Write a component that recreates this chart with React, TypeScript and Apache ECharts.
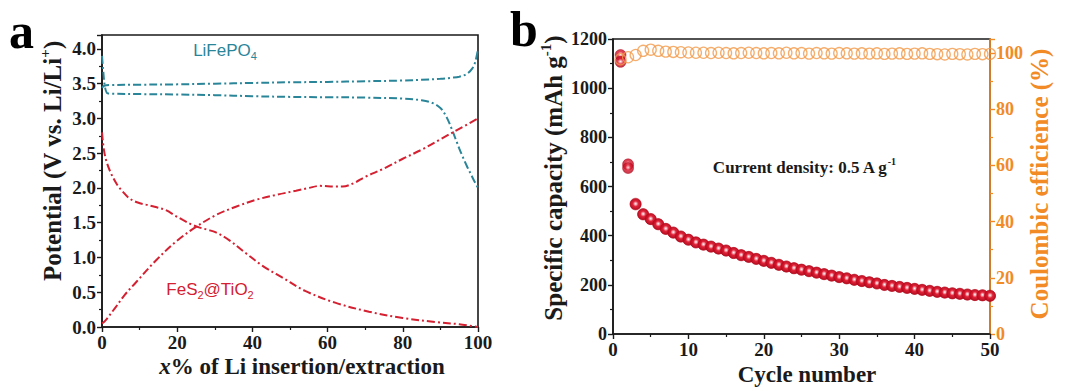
import React, { useEffect, useRef } from 'react';
import * as echarts from 'echarts';

// Panel a: galvanostatic curves, [x% of Li, potential V]
const lfpCharge: number[][] = [
  [0, 3.44], [0.6, 3.47], [2, 3.48], [10, 3.485], [20, 3.49], [30, 3.5], [40, 3.51], [50, 3.52],
  [60, 3.525], [70, 3.535], [80, 3.545], [85, 3.555], [90, 3.57], [93, 3.585], [95, 3.6],
  [97, 3.64], [98.5, 3.72], [99.3, 3.82], [100, 4.0],
];
const lfpDischarge: number[][] = [
  [0, 3.9], [0.3, 3.7], [0.8, 3.45], [1.5, 3.36], [3, 3.355], [10, 3.35], [20, 3.345], [30, 3.335],
  [40, 3.32], [50, 3.31], [60, 3.305], [70, 3.3], [80, 3.285], [85, 3.26], [88, 3.22], [90, 3.15],
  [91, 3.08], [92, 2.98], [93, 2.85], [94, 2.71], [95, 2.57], [96, 2.44], [97, 2.32], [98, 2.21],
  [99, 2.1], [100, 2.0],
];
const fesDischarge: number[][] = [
  [0, 2.8], [0.5, 2.55], [1.2, 2.38], [2.4, 2.21], [4, 2.05], [5.5, 1.95], [7.3, 1.85], [9.5, 1.79],
  [11.7, 1.76], [14, 1.73], [17, 1.68], [19.5, 1.6], [21.5, 1.54], [24, 1.47], [26, 1.43], [28, 1.4],
  [30.3, 1.36], [33.8, 1.25], [38.3, 1.06], [42.7, 0.88], [48, 0.71], [54, 0.52], [62, 0.35],
  [71, 0.22], [80, 0.13], [89, 0.07], [95, 0.04], [100, 0.0],
];
const fesCharge: number[][] = [
  [0, 0.05], [1, 0.1], [3.7, 0.29], [6, 0.46], [9, 0.64], [14.4, 0.96], [19.7, 1.23], [25, 1.44],
  [30.3, 1.61], [35.6, 1.73], [41, 1.83], [46.3, 1.9], [51.6, 1.96], [55, 2.0], [58, 2.03],
  [62, 2.02], [64, 2.02], [67, 2.07], [70, 2.16], [75, 2.28], [80, 2.42], [85, 2.55], [90, 2.7],
  [95, 2.85], [100, 3.0],
];

// Panel b: cycling
const cycles = [
  1, 2, 3, 4, 5, 6, 7, 8, 9, 10, 11, 12, 13, 14, 15, 16, 17, 18, 19, 20, 21, 22, 23, 24, 25,
  26, 27, 28, 29, 30, 31, 32, 33, 34, 35, 36, 37, 38, 39, 40, 41, 42, 43, 44, 45, 46, 47, 48, 49, 50,
];
const dischargeCap = [
  1135, 690, 530, 488, 468, 447, 428, 413, 397, 384, 373, 364, 356, 348, 340, 330, 321, 314, 306, 298,
  290, 282, 275, 268, 262, 256, 250, 244, 238, 232, 227, 221, 216, 211, 206, 200, 196, 192, 188, 184,
  180, 176, 172, 169, 166, 164, 161, 159, 158, 156,
];
const chargeCap = [
  1107, 675, 527, 486, 467, 446, 427, 412, 396, 383, 372, 363, 355, 347, 339, 329, 320, 313, 305, 297,
  289, 281, 274, 267, 261, 255, 249, 243, 237, 231, 226, 220, 215, 210, 205, 199, 195, 191, 187, 183,
  179, 175, 171, 168, 165, 163, 160, 158, 157, 155,
];
const coulombicEff = [
  97.8, 98.5, 99.3, 100.8, 101.2, 100.8, 100.5, 100.4, 100.3, 100.2, 100.1, 100.1, 100.0, 100.1, 100.0,
  99.9, 100.0, 100.1, 100.0, 99.9, 100.0, 99.9, 100.1, 99.9, 100.0, 99.8, 100.0, 99.9, 99.8, 100.0,
  99.9, 99.8, 99.9, 99.8, 99.9, 99.7, 99.8, 99.9, 99.7, 99.8, 99.9, 99.7, 99.6, 99.5, 99.7, 99.6,
  99.5, 99.7, 99.6, 99.7,
];

const xTicksA = [0, 20, 40, 60, 80, 100];
const xTicksB = [0, 10, 20, 30, 40, 50];

const TEAL = '#2b8599';
const RED = '#d42030';
const ORANGE = '#f28a26';
const DARK = '#1a1a1a';
const SERIF = 'Liberation Serif';
const SANS = 'Liberation Sans';

export default function App() {
  const ref = useRef<HTMLDivElement>(null);
  useEffect(() => {
    document.body.style.margin = '0';
    const chart = echarts.init(ref.current!, null, { renderer: 'svg' });

    const tickLabel = (color: string, size: number, fmt: (v: number) => string) => ({
      color,
      fontFamily: SERIF,
      fontWeight: 'bold',
      fontSize: size,
      margin: 6,
      formatter: fmt,
    });
    const axisCommon = (color: string) => ({
      axisLine: { show: true, onZero: false, lineStyle: { color, width: 1.6 } },
      axisTick: { show: true, inside: false, length: 5, lineStyle: { color, width: 1.4 } },
      minorTick: { show: true, splitNumber: 2, length: 3, lineStyle: { color, width: 1.2 } },
      splitLine: { show: false },
    });

    const sphere = new echarts.graphic.RadialGradient(0.5, 0.45, 0.55, [
      { offset: 0, color: '#ffffff' },
      { offset: 0.18, color: '#f4a8b2' },
      { offset: 0.45, color: '#de1a30' },
      { offset: 1, color: '#b0051a' },
    ]);

    const lineSeries = (data: number[][], color: string) => ({
      type: 'line',
      xAxisIndex: 0,
      yAxisIndex: 0,
      data,
      showSymbol: false,
      smooth: 0.35,
      lineStyle: { color, width: 2, type: [8, 3, 2, 3] },
    });

    const titleRich = (size: number, color: string) => ({
      t: { fontFamily: SERIF, fontWeight: 'bold', fontSize: size, fill: color, lineHeight: size + 4, verticalAlign: 'middle' },
      i: { fontFamily: SERIF, fontWeight: 'bold', fontStyle: 'italic', fontSize: size, fill: color, lineHeight: size + 4, verticalAlign: 'middle' },
      sup: { fontFamily: SERIF, fontWeight: 'bold', fontSize: Math.round(size * 0.6), fill: color, lineHeight: Math.round(size * 0.6), verticalAlign: 'top' },
    });
    const annoRich = (size: number, color: string) => ({
      t: { fontFamily: SANS, fontSize: size, fill: color, lineHeight: size + 6, verticalAlign: 'middle' },
      sub: { fontFamily: SANS, fontSize: Math.round(size * 0.65), fill: color, lineHeight: Math.round(size * 0.65), verticalAlign: 'bottom' },
    });

    const num = (v: number) => String(v);
    const option: any = {
      animation: false,
      grid: [
        { left: 102, top: 35, width: 376, height: 292, show: true, borderColor: DARK, borderWidth: 1.6, backgroundColor: 'transparent' },
        { left: 613, top: 39, width: 377, height: 295, show: true, borderColor: DARK, borderWidth: 1.6, backgroundColor: 'transparent' },
      ],
      xAxis: [
        {
          type: 'value', gridIndex: 0, min: xTicksA[0], max: xTicksA[xTicksA.length - 1], interval: 20,
          ...axisCommon(DARK), axisLabel: tickLabel(DARK, 19, num),
        },
        {
          type: 'value', gridIndex: 1, min: xTicksB[0], max: xTicksB[xTicksB.length - 1], interval: 10,
          ...axisCommon(DARK), axisLabel: tickLabel(DARK, 19, num),
        },
      ],
      yAxis: [
        {
          type: 'value', gridIndex: 0, min: 0, max: 4.2, interval: 0.5,
          ...axisCommon(DARK),
          axisLabel: { ...tickLabel(DARK, 19, (v) => v.toFixed(1)), showMaxLabel: false },
        },
        {
          type: 'value', gridIndex: 1, min: 0, max: 1200, interval: 200, position: 'left',
          ...axisCommon(DARK), axisLabel: tickLabel(DARK, 18, num),
        },
        {
          type: 'value', gridIndex: 1, min: 0, max: 105, interval: 20, position: 'right',
          ...axisCommon(ORANGE),
          axisLabel: { ...tickLabel(ORANGE, 18, num), showMaxLabel: false },
        },
      ],
      series: [
        lineSeries(lfpCharge, TEAL),
        lineSeries(lfpDischarge, TEAL),
        lineSeries(fesDischarge, RED),
        lineSeries(fesCharge, RED),
        {
          type: 'scatter', xAxisIndex: 1, yAxisIndex: 1, z: 2,
          data: cycles.map((c, i) => [c, dischargeCap[i]]),
          symbolSize: 11,
          itemStyle: { color: sphere, borderColor: '#b8081c', borderWidth: 0.6 },
        },
        {
          type: 'scatter', xAxisIndex: 1, yAxisIndex: 1, z: 2,
          data: cycles.map((c, i) => [c, chargeCap[i]]),
          symbolSize: 11,
          itemStyle: { color: sphere, borderColor: '#b8081c', borderWidth: 0.6 },
        },
        {
          type: 'scatter', xAxisIndex: 1, yAxisIndex: 2, z: 3,
          data: cycles.map((c, i) => [c, coulombicEff[i]]),
          symbol: 'circle',
          symbolSize: 11,
          itemStyle: { color: 'rgba(255,255,255,0)', borderColor: '#f39a48', borderWidth: 1.3 },
        },
      ],
      graphic: [
        { type: 'text', x: 9, y: 6, style: { text: 'a', font: `bold 50px "${SERIF}"`, fill: '#000' } },
        { type: 'text', x: 510, y: 4, style: { text: 'b', font: `bold 50px "${SERIF}"`, fill: '#000' } },
        {
          type: 'text', x: 225, y: 50,
          style: { text: '{t|LiFePO}{sub|4}', rich: annoRich(17, TEAL), align: 'center', verticalAlign: 'middle' },
        },
        {
          type: 'text', x: 210, y: 289,
          style: { text: '{t|FeS}{sub|2}{t|@TiO}{sub|2}', rich: annoRich(17, RED), align: 'center', verticalAlign: 'middle' },
        },
        {
          type: 'text', x: 52, y: 161, rotation: Math.PI / 2,
          style: { text: '{t|Potential (V vs. Li/Li}{sup|+}{t|)}', rich: titleRich(25, DARK), align: 'center', verticalAlign: 'middle' },
        },
        {
          type: 'text', x: 302, y: 366,
          style: { text: '{i|x}{t|% of Li insertion/extraction}', rich: titleRich(23, DARK), align: 'center', verticalAlign: 'middle' },
        },
        {
          type: 'text', x: 553, y: 178, rotation: Math.PI / 2,
          style: { text: '{t|Specific capacity (mAh g}{sup|-1}{t|)}', rich: titleRich(25, DARK), align: 'center', verticalAlign: 'middle' },
        },
        {
          type: 'text', x: 807, y: 374,
          style: { text: '{t|Cycle number}', rich: titleRich(23, DARK), align: 'center', verticalAlign: 'middle' },
        },
        {
          type: 'text', x: 1039, y: 184, rotation: Math.PI / 2,
          style: { text: '{t|Coulombic efficience (%)}', rich: titleRich(25, ORANGE), align: 'center', verticalAlign: 'middle' },
        },
        {
          type: 'text', x: 804, y: 167,
          style: { text: '{t|Current density: 0.5 A g}{sup|-1}', rich: titleRich(17, DARK), align: 'center', verticalAlign: 'middle' },
        },
      ],
    };

    chart.setOption(option);
    return () => chart.dispose();
  }, []);
  return <div ref={ref} style={{ width: 1073, height: 391 }} />;
}
